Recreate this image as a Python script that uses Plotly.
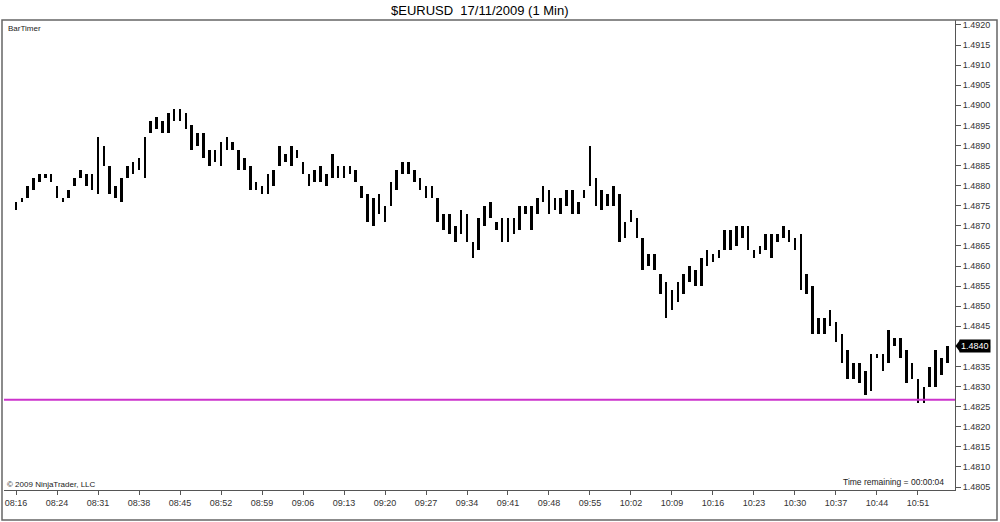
import plotly.graph_objects as go

# 1-minute bars, 08:16 .. 10:56 (bar index based, like NinjaTrader)
highs = [
    1.4876, 1.4877, 1.4880, 1.4882, 1.4883, 1.4883, 1.4883, 1.4880, 1.4877, 1.4879,
    1.4882, 1.4884, 1.4883, 1.4883, 1.4892, 1.4890, 1.4885, 1.4880, 1.4882, 1.4885,
    1.4886, 1.4887, 1.4892, 1.4896, 1.4897, 1.4896, 1.4898, 1.4899, 1.4899, 1.4898,
    1.4895, 1.4893, 1.4893, 1.4889, 1.4889, 1.4891, 1.4892, 1.4891, 1.4889, 1.4887,
    1.4885, 1.4881, 1.4880, 1.4883, 1.4884, 1.4890, 1.4888, 1.4890, 1.4889, 1.4886,
    1.4883, 1.4884, 1.4885, 1.4883, 1.4888, 1.4885, 1.4885, 1.4885, 1.4884, 1.4880,
    1.4878, 1.4877, 1.4878, 1.4875, 1.4881, 1.4884, 1.4886, 1.4886, 1.4884, 1.4882,
    1.4880, 1.4880, 1.4877, 1.4873, 1.4873, 1.4870, 1.4874, 1.4873, 1.4866, 1.4872,
    1.4875, 1.4876, 1.4871, 1.4872, 1.4872, 1.4872, 1.4875, 1.4875, 1.4875, 1.4877,
    1.4880, 1.4879, 1.4877, 1.4877, 1.4879, 1.4879, 1.4876, 1.4879, 1.4890, 1.4882,
    1.4879, 1.4878, 1.4880, 1.4878, 1.4871, 1.4874, 1.4872, 1.4867, 1.4863, 1.4863,
    1.4858, 1.4856, 1.4854, 1.4856, 1.4858, 1.4860, 1.4859, 1.4862, 1.4864, 1.4863,
    1.4864, 1.4869, 1.4869, 1.4870, 1.4870, 1.4870, 1.4864, 1.4865, 1.4868, 1.4868,
    1.4868, 1.4870, 1.4869, 1.4867, 1.4868, 1.4858, 1.4855, 1.4847, 1.4847, 1.4849,
    1.4846, 1.4843, 1.4839, 1.4836, 1.4836, 1.4834, 1.4838, 1.4838, 1.4838, 1.4844,
    1.4842, 1.4842, 1.4839, 1.4836, 1.4832, 1.4830, 1.4835, 1.4839, 1.4837, 1.4840,
]
lows = [
    1.4874, 1.4876, 1.4877, 1.4879, 1.4881, 1.4882, 1.4881, 1.4877, 1.4876, 1.4877,
    1.4880, 1.4882, 1.4880, 1.4879, 1.4878, 1.4885, 1.4878, 1.4877, 1.4876, 1.4882,
    1.4883, 1.4884, 1.4882, 1.4893, 1.4894, 1.4893, 1.4893, 1.4896, 1.4896, 1.4894,
    1.4889, 1.4890, 1.4887, 1.4885, 1.4886, 1.4885, 1.4889, 1.4889, 1.4884, 1.4884,
    1.4879, 1.4879, 1.4878, 1.4878, 1.4880, 1.4885, 1.4886, 1.4885, 1.4887, 1.4883,
    1.4880, 1.4881, 1.4881, 1.4880, 1.4882, 1.4882, 1.4882, 1.4883, 1.4881, 1.4877,
    1.4871, 1.4870, 1.4873, 1.4871, 1.4875, 1.4879, 1.4883, 1.4883, 1.4881, 1.4879,
    1.4877, 1.4877, 1.4871, 1.4869, 1.4868, 1.4866, 1.4868, 1.4866, 1.4862, 1.4864,
    1.4870, 1.4872, 1.4869, 1.4866, 1.4866, 1.4868, 1.4869, 1.4873, 1.4869, 1.4873,
    1.4876, 1.4873, 1.4874, 1.4873, 1.4875, 1.4873, 1.4873, 1.4877, 1.4880, 1.4875,
    1.4874, 1.4875, 1.4875, 1.4866, 1.4867, 1.4871, 1.4867, 1.4859, 1.4860, 1.4859,
    1.4853, 1.4847, 1.4849, 1.4851, 1.4853, 1.4856, 1.4855, 1.4855, 1.4860, 1.4861,
    1.4862, 1.4864, 1.4864, 1.4865, 1.4867, 1.4864, 1.4862, 1.4863, 1.4864, 1.4862,
    1.4866, 1.4867, 1.4866, 1.4864, 1.4854, 1.4853, 1.4843, 1.4843, 1.4843, 1.4845,
    1.4841, 1.4836, 1.4832, 1.4832, 1.4831, 1.4828, 1.4829, 1.4837, 1.4834, 1.4836,
    1.4840, 1.4837, 1.4831, 1.4832, 1.4826, 1.4826, 1.4830, 1.4830, 1.4833, 1.4836,
]
last_close = 1.4840
level_line = 1.48267

time_tick_index = list(range(0, 155, 7))
time_tick_labels = ["08:16", "08:24", "08:31", "08:38", "08:45", "08:52", "08:59",
                    "09:06", "09:13", "09:20", "09:27", "09:34", "09:41", "09:48",
                    "09:55", "10:02", "10:09", "10:16", "10:23", "10:30", "10:37",
                    "10:44", "10:51"]
price_ticks = [round(1.4805 + 0.0005 * k, 4) for k in range(24)]

title_text = "$EURUSD  17/11/2009 (1 Min)"

idx = list(range(len(highs)))
rng = [h - l for h, l in zip(highs, lows)]

FONT = "Liberation Sans, Arial, sans-serif"
AX = "#555555"

fig = go.Figure()
fig.add_trace(go.Bar(
    x=idx, y=rng, base=lows, width=0.42,
    marker=dict(color="black", line=dict(width=0)),
    hoverinfo="skip", showlegend=False,
))

# plot area: x 4..955 px, y 20..490 px
W, H = 1000, 522
L, R, T, B = 4, 45, 20, 32
pw, ph = W - L - R, H - T - B

def px(xp):
    return (xp - L) / pw

def py(yp):
    return (H - B - yp) / ph

fig.update_layout(
    width=W, height=H,
    margin=dict(l=L, r=R, t=T, b=B),
    paper_bgcolor="white", plot_bgcolor="white",
    bargap=0,
    font=dict(family=FONT, size=9, color="#222222"),
    xaxis=dict(
        range=[-2.05, 160.32], showgrid=False, zeroline=False,
        tickmode="array", tickvals=time_tick_index, ticktext=time_tick_labels,
        ticks="outside", ticklen=4, tickcolor=AX, tickwidth=1,
        showline=True, linecolor=AX, linewidth=1,
        tickfont=dict(size=9, color="#333333", family=FONT),
    ),
    yaxis=dict(
        range=[1.480427, 1.492124], side="right", showgrid=False, zeroline=False,
        tickmode="array", tickvals=price_ticks, tickformat=".4f",
        ticks="outside", ticklen=5, tickcolor=AX, tickwidth=1,
        showline=True, linecolor=AX, linewidth=1,
        tickfont=dict(size=9, color="#333333", family=FONT),
    ),
    shapes=[
        # outer frame
        dict(type="rect", xref="paper", yref="paper",
             x0=px(2), x1=px(997), y0=py(520), y1=py(20),
             line=dict(color="#666666", width=1.5), fillcolor="rgba(0,0,0,0)", layer="above"),
        # level line
        dict(type="line", xref="paper", yref="y", x0=0, x1=1,
             y0=level_line, y1=level_line,
             line=dict(color="#cc33cc", width=2)),
        # arrow of price tag
        dict(type="path", xref="paper", yref="paper",
             path=f"M {px(955.5)},{py(346)} L {px(960)},{py(340)} L {px(960)},{py(352)} Z",
             fillcolor="black", line=dict(width=0), layer="above"),
    ],
    annotations=[
        dict(text=title_text, xref="paper", yref="paper", x=0.5, y=py(10),
             xanchor="center", yanchor="middle", showarrow=False,
             font=dict(size=13, color="black", family=FONT)),
        dict(text="BarTimer", xref="paper", yref="paper", x=px(6), y=py(28),
             xanchor="left", yanchor="middle", showarrow=False,
             font=dict(size=8, color="#222222", family=FONT)),
        dict(text="© 2009 NinjaTrader, LLC", xref="paper", yref="paper", x=px(5), y=py(484),
             xanchor="left", yanchor="middle", showarrow=False,
             font=dict(size=8, color="#222222", family=FONT)),
        dict(text="Time remaining = 00:00:04", xref="paper", yref="paper", x=px(946), y=py(482),
             xanchor="right", yanchor="middle", showarrow=False,
             font=dict(size=8.5, color="#222222", family=FONT)),
        dict(text=f"{last_close:.4f}", xref="paper", yref="y", x=px(959), y=last_close,
             xanchor="left", yanchor="middle", showarrow=False,
             bgcolor="black", borderpad=1,
             font=dict(size=9, color="white", family=FONT)),
    ],
)

fig.write_html(
    "out.html",
    config={"displayModeBar": False},
    post_script="document.body.style.margin='0';document.body.style.overflow='hidden';",
)
